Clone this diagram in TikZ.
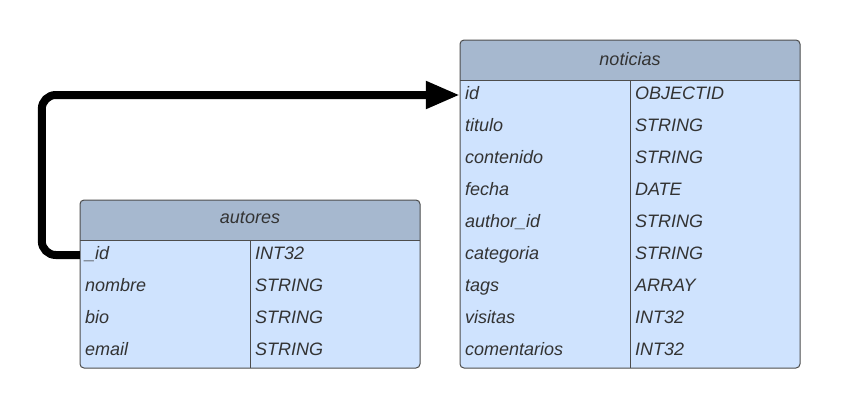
\documentclass[tikz,border=0pt]{standalone}
\usepackage{fontspec}
\setmainfont{Liberation Sans}
\usetikzlibrary{arrows.meta}
\definecolor{hdr}{HTML}{A6B8CF}
\definecolor{rowc}{HTML}{CFE3FE}
\definecolor{edgec}{HTML}{4D4D4D}
\definecolor{txt}{HTML}{333333}
\tikzset{
  tblfont/.style={font=\fontsize{18}{21}\selectfont\itshape, text=txt},
  cell/.style={tblfont, minimum height=32pt, text width=160pt, inner xsep=5pt, inner ysep=0pt,
     align=left, text height=13pt, text depth=4pt},
  ttl/.style={tblfont, inner sep=0pt},
  outline/.style={draw=edgec, line width=1pt, rounded corners=4pt},
  rule/.style={draw=edgec, line width=1pt},
  link/.style={line width=8pt, rounded corners=14pt, -{Triangle[length=34pt,width=26pt]}}
}
\begin{document}
\begin{tikzpicture}[x=1pt,y=-1pt]
\useasboundingbox (0,0) rectangle (841,408);
% ---- noticias
\fill[rowc, rounded corners=4pt] (460,40) rectangle (800,368);
\fill[hdr] (460,80) {[rounded corners=4pt] -- (460,40) -- (800,40)} -- (800,80) -- cycle;
\draw[rule] (460,80) -- (800,80);
\draw[rule] (630,80) -- (630,368);
\draw[outline] (460,40) rectangle (800,368);
\node[ttl] (ntitle) at (630,59) {noticias};
\foreach \i/\f/\t in {1/id/OBJECTID,2/titulo/STRING,3/contenido/STRING,4/fecha/DATE,5/author\_id/STRING,6/categoria/STRING,7/tags/ARRAY,8/visitas/INT32,9/comentarios/INT32}{
  \node[cell] (nf\i) at (545,{64+32*\i-1}) {\f};
  \node[cell] (nt\i) at (715,{64+32*\i-1}) {\t};
}
% ---- autores
\fill[rowc, rounded corners=4pt] (80,200) rectangle (420,368);
\fill[hdr] (80,240) {[rounded corners=4pt] -- (80,200) -- (420,200)} -- (420,240) -- cycle;
\draw[rule] (80,240) -- (420,240);
\draw[rule] (250,240) -- (250,368);
\draw[outline] (80,200) rectangle (420,368);
\node[ttl] (atitle) at (250,218) {autores};
\foreach \i/\f/\t in {1/\_id/INT32,2/nombre/STRING,3/bio/STRING,4/email/STRING}{
  \node[cell] (af\i) at (165,{224+32*\i-1}) {\f};
  \node[cell] (at\i) at (335,{224+32*\i-1}) {\t};
}
% ---- connector
\draw[link] (af1.west) -- ++(-38,0) |- (nf1.west);
\end{tikzpicture}
\end{document}
